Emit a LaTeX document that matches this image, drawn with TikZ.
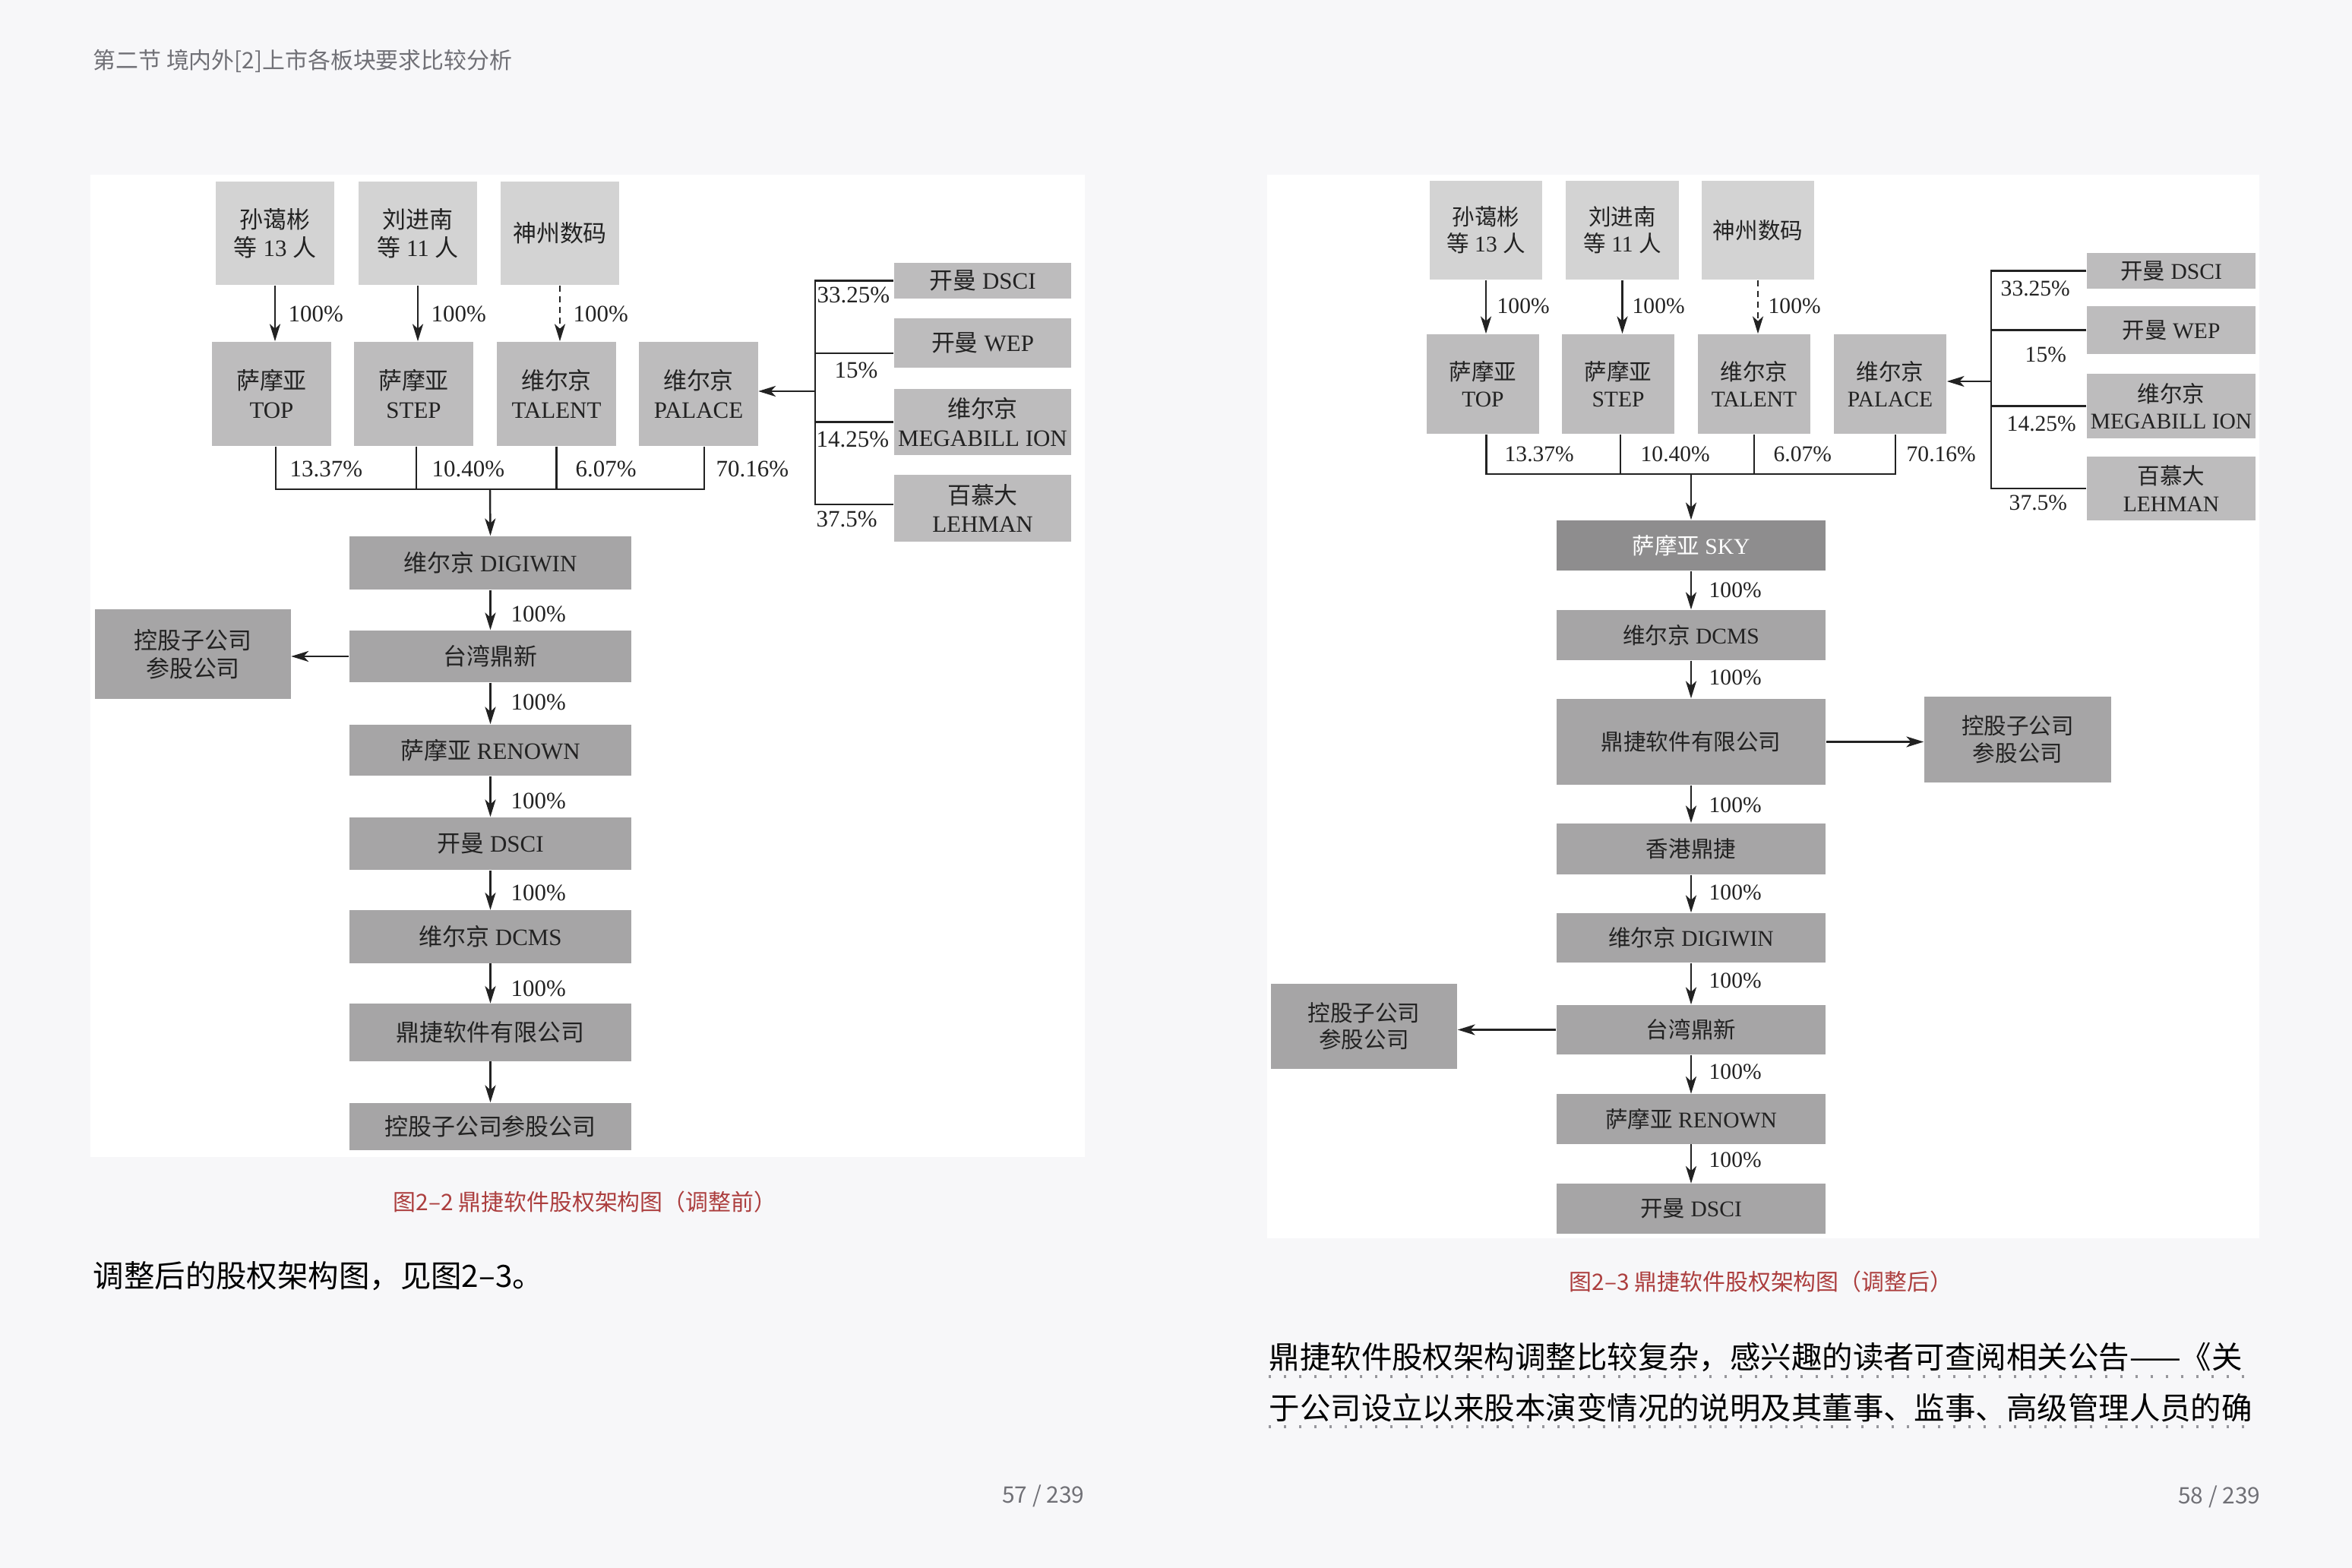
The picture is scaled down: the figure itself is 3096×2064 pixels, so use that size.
\documentclass[tikz,border=0pt]{standalone}
\usepackage{fontspec}
\setmainfont{Liberation Serif}
\newfontfamily\zh{Noto Sans CJK SC}
\usetikzlibrary{arrows.meta}
\definecolor{pagebg}{RGB}{247,247,249}
\definecolor{boxlight}{RGB}{211,211,211}
\definecolor{boxmid}{RGB}{189,188,189}
\definecolor{boxdark}{RGB}{166,165,166}
\definecolor{boxsky}{RGB}{142,141,142}
\definecolor{inkgray}{RGB}{34,34,34}
\definecolor{headgray}{RGB}{112,112,118}
\definecolor{capred}{RGB}{172,62,62}
\definecolor{dotgray}{RGB}{150,150,155}

\begin{document}
\begin{tikzpicture}[
    x=0.01cm, y=-0.01cm,
    >={Stealth[length=6.5pt,width=4pt,inset=1.8pt]},
    lft/.style={font=\fontsize{8.8}{10.6}\selectfont},
    rgt/.style={font=\fontsize{8.4}{10.1}\selectfont},
    card/.style={
        inner sep=0pt,
        align=center,
        text=inkgray
    },
    toprow/.style={card, fill=boxlight},
    midrow/.style={card, fill=boxmid},
    chain/.style={card, fill=boxdark},
    skybox/.style={card, fill=boxsky, text=white},
    pct/.style={inner sep=0pt, text=inkgray, anchor=west},
    arr/.style={->, line width=0.7pt, draw=inkgray},
    dasharr/.style={arr, dash pattern=on 0.08cm off 0.06cm},
    link/.style={line width=0.7pt, draw=inkgray},
    dotline/.style={draw=dotgray, line width=0.035cm, dash pattern=on 0.03cm off 0.17cm},
    caption/.style={inner sep=0pt, text=capred, font=\zh\fontsize{8.5}{10}\selectfont},
    body/.style={inner sep=0pt, anchor=west, text=black, font=\zh\fontsize{11.5}{14}\selectfont},
    pageno/.style={inner sep=0pt, anchor=east, text=headgray, font=\zh\fontsize{8.5}{10}\selectfont}
]

\useasboundingbox (0,0) rectangle (3096,2064);
\fill[pagebg] (0,0) rectangle (3096,2064);
\fill[white] (119,230) rectangle (1428,1523);
\fill[white] (1668,230) rectangle (2974,1630);

\node[anchor=west, inner sep=0pt, text=headgray, font=\zh\fontsize{8.5}{10}\selectfont] (head) at (122,80)
{第二节 境内外[2]上市各板块要求比较分析};

% ---- before the adjustment ----
\node[toprow, lft, minimum width=1.55cm, minimum height=1.36cm] (sunA) at (362,307) {{\zh 孙蔼彬}\\{\zh 等} 13 {\zh 人}};
\node[toprow, lft, minimum width=1.55cm, minimum height=1.36cm] (liuA) at (550,307) {{\zh 刘进南}\\{\zh 等} 11 {\zh 人}};
\node[toprow, lft, minimum width=1.55cm, minimum height=1.36cm] (szA) at (737,307) {{\zh 神州数码}};

\node[midrow, lft, minimum width=1.56cm, minimum height=1.37cm] (topA) at (357.5,518.5) {{\zh 萨摩亚}\\TOP};
\node[midrow, lft, minimum width=1.56cm, minimum height=1.37cm] (stepA) at (544.5,518.5) {{\zh 萨摩亚}\\STEP};
\node[midrow, lft, minimum width=1.56cm, minimum height=1.37cm] (talentA) at (732.5,518.5) {{\zh 维尔京}\\TALENT};
\node[midrow, lft, minimum width=1.56cm, minimum height=1.37cm] (palaceA) at (919.5,518.5) {{\zh 维尔京}\\PALACE};

\draw[arr] (sunA.south) -- (sunA.south |- topA.north);
\draw[arr] (liuA.south) -- (liuA.south |- stepA.north);
\draw[dasharr] (szA.south) -- (szA.south |- talentA.north);
\node[pct, lft] (pa1) at (379,413) {100\%};
\node[pct, lft] (pa2) at (567,413) {100\%};
\node[pct, lft] (pa3) at (754,413) {100\%};

\coordinate (busA) at (645,644);
\draw[link] ([xshift=0.055cm]topA.south) -- ([xshift=0.055cm]topA.south |- busA)
    -- ([xshift=0.075cm]palaceA.south |- busA) -- ([xshift=0.075cm]palaceA.south);
\draw[link] ([xshift=0.035cm]stepA.south) -- ([xshift=0.035cm]stepA.south |- busA);
\draw[link] (talentA.south) -- (talentA.south |- busA);
\node[pct, lft] (sa1) at (381,617) {13.37\%};
\node[pct, lft] (sa2) at (568,617) {10.40\%};
\node[pct, lft] (sa3) at (757,617) {6.07\%};
\node[pct, lft] (sa4) at (942,617) {70.16\%};

\node[midrow, lft, minimum width=2.33cm, minimum height=0.47cm] (dsciTopA) at (1293.5,369.5) {{\zh 开曼} DSCI};
\node[midrow, lft, minimum width=2.33cm, minimum height=0.65cm] (wepA) at (1293.5,451.5) {{\zh 开曼} WEP};
\node[midrow, lft, minimum width=2.33cm, minimum height=0.87cm] (megaA) at (1293.5,555.5) {{\zh 维尔京}\\MEGABILL ION};
\node[midrow, lft, minimum width=2.33cm, minimum height=0.88cm] (lehmanA) at (1293.5,669) {{\zh 百慕大}\\LEHMAN};

\coordinate (spineA) at (1073,515);
\draw[link] (dsciTopA.west) -- (dsciTopA.west -| spineA) -- ([yshift=0.05cm]lehmanA.west -| spineA) -- ([yshift=0.05cm]lehmanA.west);
\draw[link] ([yshift=-0.135cm]wepA.west) -- ([yshift=-0.135cm]wepA.west -| spineA);
\draw[link] (megaA.west) -- (megaA.west -| spineA);
\draw[arr] (spineA) -- (spineA -| palaceA.east);
\node[pct, lft] (ba1) at (1075,388) {33.25\%};
\node[pct, lft] (ba2) at (1098,487) {15\%};
\node[pct, lft] (ba3) at (1074,578) {14.25\%};
\node[pct, lft] (ba4) at (1074,683) {37.5\%};

\node[chain, lft, minimum width=3.71cm, minimum height=0.70cm] (digiwinA) at (645.5,741) {{\zh 维尔京} DIGIWIN};
\node[chain, lft, minimum width=3.71cm, minimum height=0.68cm] (taiwanA) at (645.5,864) {{\zh 台湾鼎新}};
\node[chain, lft, minimum width=3.71cm, minimum height=0.67cm] (renownA) at (645.5,987.5) {{\zh 萨摩亚} RENOWN};
\node[chain, lft, minimum width=3.71cm, minimum height=0.69cm] (dsciA) at (645.5,1110.5) {{\zh 开曼} DSCI};
\node[chain, lft, minimum width=3.71cm, minimum height=0.69cm] (dcmsA) at (645.5,1233) {{\zh 维尔京} DCMS};
\node[chain, lft, minimum width=3.71cm, minimum height=0.75cm] (dingjieA) at (645.5,1359) {{\zh 鼎捷软件有限公司}};
\node[chain, lft, minimum width=3.71cm, minimum height=0.62cm] (subsA) at (645.5,1483) {{\zh 控股子公司参股公司}};
\node[chain, lft, minimum width=2.57cm, minimum height=1.18cm] (sideA) at (254,861) {{\zh 控股子公司}\\{\zh 参股公司}};

\draw[arr] (busA) -- (digiwinA.north);
\draw[arr] (digiwinA) -- (taiwanA);
\draw[arr] (taiwanA) -- (renownA);
\draw[arr] (renownA) -- (dsciA);
\draw[arr] (dsciA) -- (dcmsA);
\draw[arr] (dcmsA) -- (dingjieA);
\draw[arr] (dingjieA) -- (subsA);
\draw[arr] (taiwanA.west) -- (taiwanA.west -| sideA.east);
\node[pct, lft] (ca1) at (672,808) {100\%};
\node[pct, lft] (ca2) at (672,924) {100\%};
\node[pct, lft] (ca3) at (672,1054) {100\%};
\node[pct, lft] (ca4) at (672,1175.5) {100\%};
\node[pct, lft] (ca5) at (672,1301) {100\%};

\node[caption] (capA) at (770,1582) {图2–2 鼎捷软件股权架构图（调整前）};
\node[body] (noteA) at (122,1680) {调整后的股权架构图，见图2–3。};
\node[pageno] (pageA) at (1428,1969) {57 / 239};

% ---- after the adjustment ----
\node[toprow, rgt, minimum width=1.48cm, minimum height=1.30cm] (sunB) at (1956,303) {{\zh 孙蔼彬}\\{\zh 等} 13 {\zh 人}};
\node[toprow, rgt, minimum width=1.48cm, minimum height=1.30cm] (liuB) at (2135.5,303) {{\zh 刘进南}\\{\zh 等} 11 {\zh 人}};
\node[toprow, rgt, minimum width=1.48cm, minimum height=1.30cm] (szB) at (2314,303) {{\zh 神州数码}};

\node[midrow, rgt, minimum width=1.48cm, minimum height=1.31cm] (topB) at (1952,505.5) {{\zh 萨摩亚}\\TOP};
\node[midrow, rgt, minimum width=1.48cm, minimum height=1.31cm] (stepB) at (2130,505.5) {{\zh 萨摩亚}\\STEP};
\node[midrow, rgt, minimum width=1.48cm, minimum height=1.31cm] (talentB) at (2309,505.5) {{\zh 维尔京}\\TALENT};
\node[midrow, rgt, minimum width=1.48cm, minimum height=1.31cm] (palaceB) at (2488,505.5) {{\zh 维尔京}\\PALACE};

\draw[arr] (sunB.south) -- (sunB.south |- topB.north);
\draw[arr] (liuB.south) -- (liuB.south |- stepB.north);
\draw[dasharr] (szB.south) -- (szB.south |- talentB.north);
\node[pct, rgt] (pb1) at (1970,403) {100\%};
\node[pct, rgt] (pb2) at (2148,403) {100\%};
\node[pct, rgt] (pb3) at (2327,403) {100\%};

\coordinate (busB) at (2226,624);
\draw[link] ([xshift=0.045cm]topB.south) -- ([xshift=0.045cm]topB.south |- busB)
    -- ([xshift=0.07cm]palaceB.south |- busB) -- ([xshift=0.07cm]palaceB.south);
\draw[link] ([xshift=0.03cm]stepB.south) -- ([xshift=0.03cm]stepB.south |- busB);
\draw[link] (talentB.south) -- (talentB.south |- busB);
\node[pct, rgt] (sb1) at (1980,598) {13.37\%};
\node[pct, rgt] (sb2) at (2159,598) {10.40\%};
\node[pct, rgt] (sb3) at (2334,598) {6.07\%};
\node[pct, rgt] (sb4) at (2509,598) {70.16\%};

\node[midrow, rgt, minimum width=2.22cm, minimum height=0.47cm] (dsciTopB) at (2858,356.5) {{\zh 开曼} DSCI};
\node[midrow, rgt, minimum width=2.22cm, minimum height=0.63cm] (wepB) at (2858,434.5) {{\zh 开曼} WEP};
\node[midrow, rgt, minimum width=2.22cm, minimum height=0.85cm] (megaB) at (2858,534.5) {{\zh 维尔京}\\MEGABILL ION};
\node[midrow, rgt, minimum width=2.22cm, minimum height=0.84cm] (lehmanB) at (2858,643) {{\zh 百慕大}\\LEHMAN};

\coordinate (spineB) at (2621,502);
\draw[link] (dsciTopB.west) -- (dsciTopB.west -| spineB) -- (lehmanB.west -| spineB) -- (lehmanB.west);
\draw[link] (wepB.west) -- (wepB.west -| spineB);
\draw[link] (megaB.west) -- (megaB.west -| spineB);
\draw[arr] (spineB) -- (spineB -| palaceB.east);
\node[pct, rgt] (bb1) at (2633,380) {33.25\%};
\node[pct, rgt] (bb2) at (2665,467) {15\%};
\node[pct, rgt] (bb3) at (2641,558) {14.25\%};
\node[pct, rgt] (bb4) at (2644,662) {37.5\%};

\node[skybox, rgt, minimum width=3.54cm, minimum height=0.66cm] (skyB) at (2226,718) {{\zh 萨摩亚} SKY};
\node[chain, rgt, minimum width=3.54cm, minimum height=0.66cm] (dcmsB) at (2226,836) {{\zh 维尔京} DCMS};
\node[chain, rgt, minimum width=3.54cm, minimum height=1.13cm] (dingjieB) at (2226,976.5) {{\zh 鼎捷软件有限公司}};
\node[chain, rgt, minimum width=3.54cm, minimum height=0.67cm] (hkB) at (2226,1117.5) {{\zh 香港鼎捷}};
\node[chain, rgt, minimum width=3.54cm, minimum height=0.65cm] (digiwinB) at (2226,1234.5) {{\zh 维尔京} DIGIWIN};
\node[chain, rgt, minimum width=3.54cm, minimum height=0.65cm] (taiwanB) at (2226,1355.5) {{\zh 台湾鼎新}};
\node[chain, rgt, minimum width=3.54cm, minimum height=0.65cm] (renownB) at (2226,1473) {{\zh 萨摩亚} RENOWN};
\node[chain, rgt, minimum width=3.54cm, minimum height=0.65cm] (dsciB) at (2226,1591) {{\zh 开曼} DSCI};
\node[chain, rgt, minimum width=2.46cm, minimum height=1.13cm] (sideB1) at (2656,973.5) {{\zh 控股子公司}\\{\zh 参股公司}};
\node[chain, rgt, minimum width=2.45cm, minimum height=1.12cm] (sideB2) at (1795.5,1351) {{\zh 控股子公司}\\{\zh 参股公司}};

\draw[arr] (busB) -- (skyB.north);
\draw[arr] (skyB) -- (dcmsB);
\draw[arr] (dcmsB) -- (dingjieB);
\draw[arr] (dingjieB) -- (hkB);
\draw[arr] (hkB) -- (digiwinB);
\draw[arr] (digiwinB) -- (taiwanB);
\draw[arr] (taiwanB) -- (renownB);
\draw[arr] (renownB) -- (dsciB);
\draw[arr] (dingjieB.east) -- (dingjieB.east -| sideB1.west);
\draw[arr] (taiwanB.west) -- (taiwanB.west -| sideB2.east);
\node[pct, rgt] (cb1) at (2249,777) {100\%};
\node[pct, rgt] (cb2) at (2249,892) {100\%};
\node[pct, rgt] (cb3) at (2249,1060) {100\%};
\node[pct, rgt] (cb4) at (2249,1175) {100\%};
\node[pct, rgt] (cb5) at (2249,1291) {100\%};
\node[pct, rgt] (cb6) at (2249,1411) {100\%};
\node[pct, rgt] (cb7) at (2249,1527) {100\%};

\node[caption] (capB) at (2318,1687) {图2–3 鼎捷软件股权架构图（调整后）};
\node[body] (paraB1) at (1670,1787) {鼎捷软件股权架构调整比较复杂，感兴趣的读者可查阅相关公告——《关};
\node[body] (paraB2) at (1670,1853) {于公司设立以来股本演变情况的说明及其董事、监事、高级管理人员的确};
\draw[dotline] ([yshift=-0.25cm]paraB1.west) -- ([xshift=0.03cm,yshift=-0.25cm]paraB2.east |- paraB1.west);
\draw[dotline] ([yshift=-0.25cm]paraB2.west) -- ([xshift=0.03cm,yshift=-0.25cm]paraB2.east);
\node[pageno] (pageB) at (2976,1970) {58 / 239};

\end{tikzpicture}
\end{document}
